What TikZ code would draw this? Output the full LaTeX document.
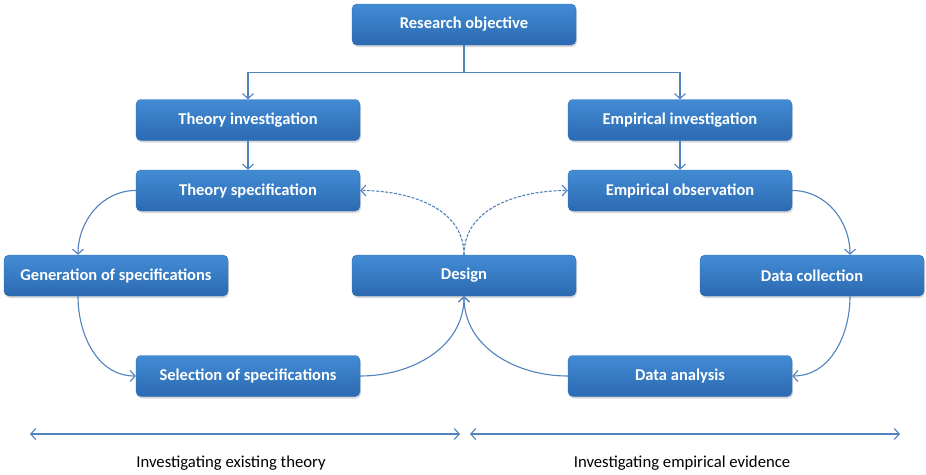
\documentclass[tikz,border=0pt]{standalone}
\usepackage{fontspec}
\setmainfont{Carlito}
\usetikzlibrary{arrows.meta,positioning,shadows}
\definecolor{boxtop}{RGB}{66,140,212}
\definecolor{boxbot}{RGB}{44,106,178}
\definecolor{linkblue}{RGB}{80,130,190}

\begin{document}
\begin{tikzpicture}[x=1pt, y=1pt,
    rbox/.style={rectangle, rounded corners=5pt, top color=boxtop, bottom color=boxbot,
                 draw=boxbot, line width=0.4pt, minimum width=224pt, minimum height=41pt,
                 align=center, text=white, font=\fontsize{16.5}{19}\selectfont\bfseries,
                 drop shadow={opacity=0.3, shadow xshift=1pt, shadow yshift=-2pt}},
    arr/.style={-{Straight Barb[length=5pt,width=11pt]}, line width=1.1pt, linkblue},
    darr/.style={arr, dashed, dash pattern=on 3pt off 1.5pt},
    spanarr/.style={{Straight Barb[length=5pt,width=11pt]}-{Straight Barb[length=5pt,width=11pt]},
                 line width=1.1pt, linkblue},
    lbl/.style={font=\fontsize{16.7}{19}\selectfont, text=black}
]
    \useasboundingbox (0,0) rectangle (926,-474);

    % boxes
    \node[rbox] (robj) at (464,-24.5) {Research objective};
    \node[rbox] (tinv) at (248,-120) {Theory investigation};
    \node[rbox] (einv) at (680,-120) {Empirical investigation};
    \node[rbox] (tspec) at (248,-190.5) {Theory specification};
    \node[rbox] (eobs) at (680,-190.5) {Empirical observation};
    \node[rbox] (gen) at (116,-275.5) {Generation of specifications};
    \node[rbox] (des) at (464,-275.5) {Design};
    \node[rbox] (dcol) at (812,-275.5) {Data collection};
    \node[rbox] (sel) at (248,-376) {Selection of specifications};
    \node[rbox] (ana) at (680,-376) {Data analysis};

    % top split
    \draw[arr] (robj.south) -- ++(0,-27) -| (tinv.north);
    \draw[arr] (robj.south) -- ++(0,-27) -| (einv.north);
    \draw[arr] (tinv) -- (tspec);
    \draw[arr] (einv) -- (eobs);

    % theory loop
    \draw[arr] (tspec.west) to[out=180, in=90] ([xshift=-38pt]gen.north);
    \draw[arr] ([xshift=-38pt]gen.south) to[out=-90, in=180] (sel.west);
    \draw[arr] (sel.east) to[out=0, in=-90] (des.south);

    % empirical loop
    \draw[arr] (eobs.east) to[out=0, in=90] ([xshift=38pt]dcol.north);
    \draw[arr] ([xshift=38pt]dcol.south) to[out=-90, in=0] (ana.east);
    \draw[arr] (ana.west) to[out=180, in=-90] (des.south);

    % design feedback
    \draw[darr] (des.north) to[out=90, in=0] (tspec.east);
    \draw[darr] (des.north) to[out=90, in=180] (eobs.west);

    % bottom spans
    \coordinate (l1) at (30,-434);
    \coordinate (l2) at (460,-434);
    \coordinate (r1) at (470,-434);
    \coordinate (r2) at (900,-434);
    \draw[spanarr] (l1) -- (l2);
    \draw[spanarr] (r1) -- (r2);
    \node[lbl] (ltheory) at (231,-463) {Investigating existing theory};
    \node[lbl] (lemp) at (682,-463) {Investigating empirical evidence};
\end{tikzpicture}
\end{document}
